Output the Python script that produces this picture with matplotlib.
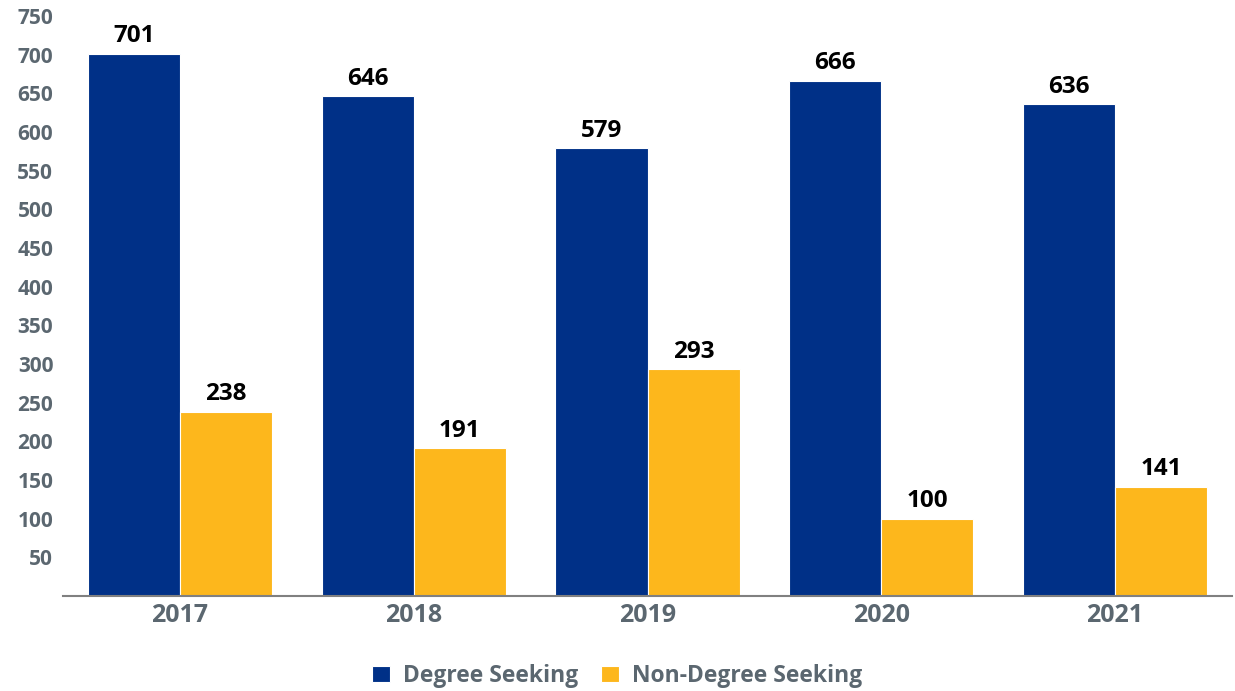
import matplotlib
matplotlib.use("Agg")
import matplotlib.pyplot as plt
import numpy as np

years = ["2017", "2018", "2019", "2020", "2021"]
degree = [701, 646, 579, 666, 636]
non_degree = [238, 191, 293, 100, 141]
yticks = [50, 100, 150, 200, 250, 300, 350, 400, 450, 500, 550, 600, 650, 700, 750]

BLUE = "#003087"
GOLD = "#FDB71C"
GRAY = "#5B6770"
FONT = ["Open Sans", "DejaVu Sans"]
plt.rcParams["font.family"] = FONT

fig = plt.figure(figsize=(12.35, 6.91), dpi=100)
ax = fig.add_axes([63/1235, 95/691, 1169/1235, 580/691])

x = np.arange(len(years))
w = 0.394
b1 = ax.bar(x - w/2, degree, w, color=BLUE, edgecolor="white", linewidth=0.8, label="Degree Seeking")
b2 = ax.bar(x + w/2, non_degree, w, color=GOLD, edgecolor="white", linewidth=0.8, label="Non-Degree Seeking")

for bars, vals in ((b1, degree), (b2, non_degree)):
    for r, v in zip(bars, vals):
        ax.annotate(str(v), (r.get_x() + r.get_width()/2, v), xytext=(0, 4),
                    textcoords="offset points", ha="center", va="bottom",
                    fontsize=17.5, fontweight="bold", color="black")

ax.set_xlim(-0.5, 4.5)
ax.set_ylim(0, 750)
ax.set_yticks(yticks)
ax.set_yticklabels([str(t) for t in yticks])
ax.set_xticks(x)
ax.set_xticklabels(years)
for lab in ax.get_yticklabels():
    lab.set_fontsize(15); lab.set_fontweight("bold"); lab.set_color(GRAY)
for lab in ax.get_xticklabels():
    lab.set_fontsize(18); lab.set_fontweight("bold"); lab.set_color(GRAY)
ax.tick_params(axis="both", length=0)
ax.tick_params(axis="y", pad=7)
ax.tick_params(axis="x", pad=5)
for s in ["top", "right", "left"]:
    ax.spines[s].set_visible(False)
ax.spines["bottom"].set_color("#808080")
ax.spines["bottom"].set_linewidth(1.5)

leg = fig.legend(handles=[b1, b2], loc="center", bbox_to_anchor=(0.5, 1 - 676/691),
                 ncol=2, frameon=False, handlelength=0.75, handleheight=0.75,
                 handletextpad=0.6, columnspacing=1.0,
                 prop={"family": FONT, "weight": "bold", "size": 16.5})
for t in leg.get_texts():
    t.set_color(GRAY)

fig.savefig("out.png", dpi=100)
